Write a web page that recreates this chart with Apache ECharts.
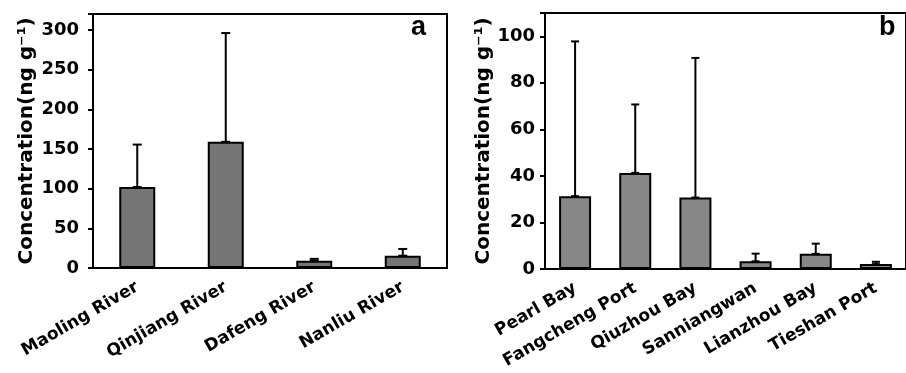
<!DOCTYPE html>
<html>
<head>
<meta charset="utf-8">
<script src="https://cdn.jsdelivr.net/npm/echarts@6/dist/echarts.min.js"></script>
<style>
  html, body { margin: 0; padding: 0; background: #fff; }
  #chart { width: 906px; height: 373px; }
</style>
</head>
<body>
<div id="chart"></div>
<script>
// panel a: rivers
const riverNames = ["Maoling River", "Qinjiang River", "Dafeng River", "Nanliu River"];
const riverMeans = [102, 159, 9, 15.5];
const riverSD = [53.5, 137, 2.5, 8.5];
const riverTicks = [0, 50, 100, 150, 200, 250, 300];

// panel b: bays
const bayNames = ["Pearl Bay", "Fangcheng Port", "Qiuzhou Bay", "Sanniangwan", "Lianzhou Bay", "Tieshan Port"];
const bayMeans = [31.3, 41.3, 30.7, 3.3, 6.5, 2.1];
const baySD = [66.5, 29.4, 60, 3.3, 4.4, 1.0];
const bayTicks = [0, 20, 40, 60, 80, 100];

const FONT = "DejaVu Sans";
const yTitle = "Concentration(ng g\u207B\u00B9)";

const chart = echarts.init(document.getElementById("chart"));

// upper error bar with caps, drawn through the axis coords
const errorBar = (capHalf) => (params, api) => {
  const i = api.value(0);
  const m = api.value(1);
  const sd = api.value(2);
  const base = api.coord([i, m]);
  const top = api.coord([i, m + sd]);
  const st = { stroke: "#000", lineWidth: 2 };
  return {
    type: "group",
    children: [
      { type: "line", shape: { x1: base[0], y1: base[1], x2: top[0], y2: top[1] }, style: st },
      { type: "line", shape: { x1: top[0] - capHalf, y1: top[1], x2: top[0] + capHalf, y2: top[1] }, style: st },
      { type: "line", shape: { x1: base[0] - capHalf, y1: base[1], x2: base[0] + capHalf, y2: base[1] }, style: st }
    ]
  };
};

const xAxisBase = (names, idx) => ({
  type: "category",
  gridIndex: idx,
  data: names,
  axisLine: { lineStyle: { color: "#000", width: 2 } },
  axisTick: { alignWithLabel: true, length: 5, lineStyle: { color: "#000", width: 2 } },
  axisLabel: { interval: 0, rotate: 30, margin: 18, color: "#000", fontFamily: FONT, fontWeight: "bold", fontSize: 17 },
  splitLine: { show: false }
});

const yAxisBase = (idx, max, interval, ticks, margin, gap) => ({
  type: "value",
  gridIndex: idx,
  min: 0,
  max: max,
  interval: interval,
  name: yTitle,
  nameLocation: "middle",
  nameGap: gap,
  nameRotate: 90,
  nameTextStyle: { color: "#000", fontFamily: FONT, fontWeight: "bold", fontSize: 20 },
  axisLine: { show: true, lineStyle: { color: "#000", width: 2 } },
  axisTick: { show: true, length: 5, lineStyle: { color: "#000", width: 2 } },
  axisLabel: {
    margin: margin, color: "#000", fontFamily: FONT, fontWeight: "bold", fontSize: 18,
    formatter: (v) => (ticks.indexOf(v) >= 0 ? String(v) : "")
  },
  splitLine: { show: false }
});

const option = {
  animation: false,
  backgroundColor: "#fff",
  grid: [
    { left: 93, top: 14, width: 354, bottom: 105, show: true, borderColor: "#000", borderWidth: 2 },
    { left: 545, top: 13, width: 367, bottom: 104, show: true, borderColor: "#000", borderWidth: 2 }
  ],
  xAxis: [xAxisBase(riverNames, 0), xAxisBase(bayNames, 1)],
  yAxis: [
    yAxisBase(0, 320, 50, riverTicks, 14, 56),
    yAxisBase(1, 110, 20, bayTicks, 10, 49)
  ],
  graphic: [
    { type: "text", left: 411, top: 14, style: { text: "a", fill: "#000", font: "bold 27px 'Liberation Sans'" } },
    { type: "text", left: 879, top: 14, style: { text: "b", fill: "#000", font: "bold 27px 'Liberation Sans'" } }
  ],
  series: [
    {
      type: "bar", xAxisIndex: 0, yAxisIndex: 0, data: riverMeans, barWidth: 36,
      itemStyle: { color: "#757575", borderColor: "#000", borderWidth: 2 }
    },
    {
      type: "custom", xAxisIndex: 0, yAxisIndex: 0, z: 5,
      data: riverMeans.map((m, i) => [i, m, riverSD[i]]),
      encode: { x: 0, y: [1, 2] },
      renderItem: errorBar(4.5)
    },
    {
      type: "bar", xAxisIndex: 1, yAxisIndex: 1, data: bayMeans, barWidth: 32,
      itemStyle: { color: "#878787", borderColor: "#000", borderWidth: 2 }
    },
    {
      type: "custom", xAxisIndex: 1, yAxisIndex: 1, z: 5,
      data: bayMeans.map((m, i) => [i, m, baySD[i]]),
      encode: { x: 0, y: [1, 2] },
      renderItem: errorBar(4)
    }
  ]
};

chart.setOption(option);
</script>
</body>
</html>
